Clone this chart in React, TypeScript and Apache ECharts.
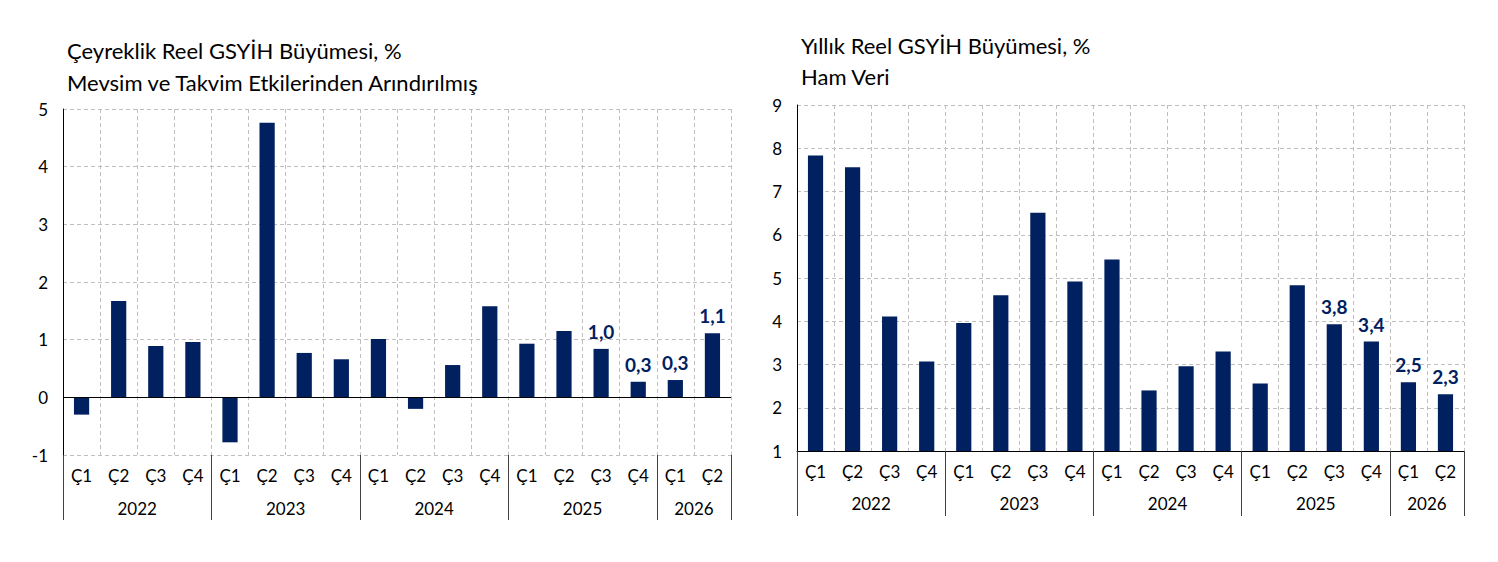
import React, { useEffect, useRef } from "react";
import * as echarts from "echarts";

const FONT = "Lato, 'Open Sans', sans-serif";

const quarters = ["Ç1","Ç2","Ç3","Ç4","Ç1","Ç2","Ç3","Ç4","Ç1","Ç2","Ç3","Ç4","Ç1","Ç2","Ç3","Ç4","Ç1","Ç2"];
const years = ["2022", "2023", "2024", "2025", "2026"];
const quartersPerYear = [4, 4, 4, 4, 2];

const quarterlyGrowth = [-0.3, 1.67, 0.89, 0.96, -0.78, 4.76, 0.77, 0.66, 1.01, -0.2, 0.56, 1.58, 0.93, 1.15, 0.84, 0.27, 0.3, 1.11];
const quarterlyLabels = ["", "", "", "", "", "", "", "", "", "", "", "", "", "", "1,0", "0,3", "0,3", "1,1"];

const annualGrowth = [7.83, 7.56, 4.11, 3.07, 3.96, 4.6, 6.51, 4.92, 5.43, 2.4, 2.96, 3.3, 2.56, 4.83, 3.93, 3.53, 2.59, 2.31];
const annualLabels = ["", "", "", "", "", "", "", "", "", "", "", "", "", "", "3,8", "3,4", "2,5", "2,3"];

const leftTitle = "Çeyreklik Reel GSYİH Büyümesi, %\nMevsim ve Takvim Etkilerinden Arındırılmış";
const rightTitle = "Yıllık Reel GSYİH Büyümesi, %\nHam Veri";

const boundaries: number[] = [0];
const centers: number[] = [];
quartersPerYear.forEach((n) => {
  const start = boundaries[boundaries.length - 1];
  centers.push(start + n / 2);
  boundaries.push(start + n);
});

const NAVY = "#002060";
const GRIDC = "#bfbfbf";
const TICK_FS = 17;

function quarterAxis(gridIndex: number, showLine: boolean, margin: number) {
  return {
    gridIndex,
    type: "category",
    data: quarters,
    position: "bottom",
    axisLine: { show: showLine, onZero: false, lineStyle: { color: "#000", width: 1 } },
    axisTick: { show: false },
    axisLabel: { interval: 0, margin, fontSize: TICK_FS, color: "#000", fontFamily: FONT },
    splitLine: { show: true, interval: 0, lineStyle: { type: [4, 3], color: GRIDC, width: 1 } },
  };
}

function yearAxis(gridIndex: number, margin: number, len: number) {
  return {
    gridIndex,
    type: "value",
    min: 0,
    max: quarters.length,
    position: "bottom",
    axisLine: { show: false, onZero: false },
    splitLine: { show: false },
    axisTick: { show: true, customValues: boundaries, length: len, lineStyle: { color: "#404040", width: 1 } },
    axisLabel: {
      customValues: centers,
      margin,
      fontSize: TICK_FS,
      color: "#000",
      fontFamily: FONT,
      formatter: (v: number) => {
        const i = centers.findIndex((c) => Math.abs(c - v) < 1e-6);
        return i >= 0 ? years[i] : "";
      },
    },
  };
}

function valueAxis(gridIndex: number, min: number, max: number) {
  return {
    gridIndex,
    type: "value",
    min,
    max,
    interval: 1,
    axisLine: { show: true, onZero: false, lineStyle: { color: "#000", width: 1 } },
    axisTick: { show: false },
    axisLabel: { fontSize: TICK_FS, margin: 15, color: "#000", fontFamily: FONT },
    splitLine: { show: true, lineStyle: { type: [4, 3], color: GRIDC, width: 1 } },
  };
}

function barSeries(xi: number, yi: number, data: number[], labels: string[], zeroLine: boolean) {
  const s: any = {
    type: "bar",
    xAxisIndex: xi,
    yAxisIndex: yi,
    data,
    barWidth: "41%",
    itemStyle: { color: NAVY },
    label: {
      show: true,
      position: "top",
      distance: 8,
      fontSize: 19,
      fontWeight: "bold",
      color: NAVY,
      fontFamily: FONT,
      formatter: (p: any) => labels[p.dataIndex],
    },
  };
  if (zeroLine) {
    s.markLine = {
      silent: true,
      symbol: "none",
      label: { show: false },
      lineStyle: { type: "solid", color: "#000", width: 1 },
      data: [{ yAxis: 0 }],
    };
  }
  return s;
}

export default function App() {
  const ref = useRef<HTMLDivElement>(null);
  useEffect(() => {
    if (!ref.current) return;
    const chart = echarts.init(ref.current, undefined, { renderer: "svg" });
    chart.setOption({
      animation: false,
      backgroundColor: "#fff",
      textStyle: { fontFamily: FONT },
      title: [
        {
          text: leftTitle,
          left: 67,
          top: 34,
          padding: 0,
          textStyle: { fontSize: 22, fontWeight: "normal", color: "#000", lineHeight: 32, fontFamily: FONT },
        },
        {
          text: rightTitle,
          left: 801,
          top: 30,
          padding: 0,
          textStyle: { fontSize: 22, fontWeight: "normal", color: "#000", lineHeight: 31, fontFamily: FONT },
        },
      ],
      grid: [
        { left: 63, top: 109, width: 668, height: 346, containLabel: false },
        { left: 797, top: 105, width: 667, height: 346, containLabel: false },
      ],
      xAxis: [
        quarterAxis(0, false, 12),
        yearAxis(0, 45, 65),
        quarterAxis(1, true, 12),
        yearAxis(1, 44, 65),
      ],
      yAxis: [valueAxis(0, -1, 5), valueAxis(1, 1, 9)],
      series: [
        barSeries(0, 0, quarterlyGrowth, quarterlyLabels, true),
        barSeries(2, 1, annualGrowth, annualLabels, false),
      ],
    });
    return () => chart.dispose();
  }, []);
  return (
    <div
      ref={ref}
      style={{ position: "absolute", left: 0, top: 0, width: 1498, height: 562, background: "#fff" }}
    />
  );
}
